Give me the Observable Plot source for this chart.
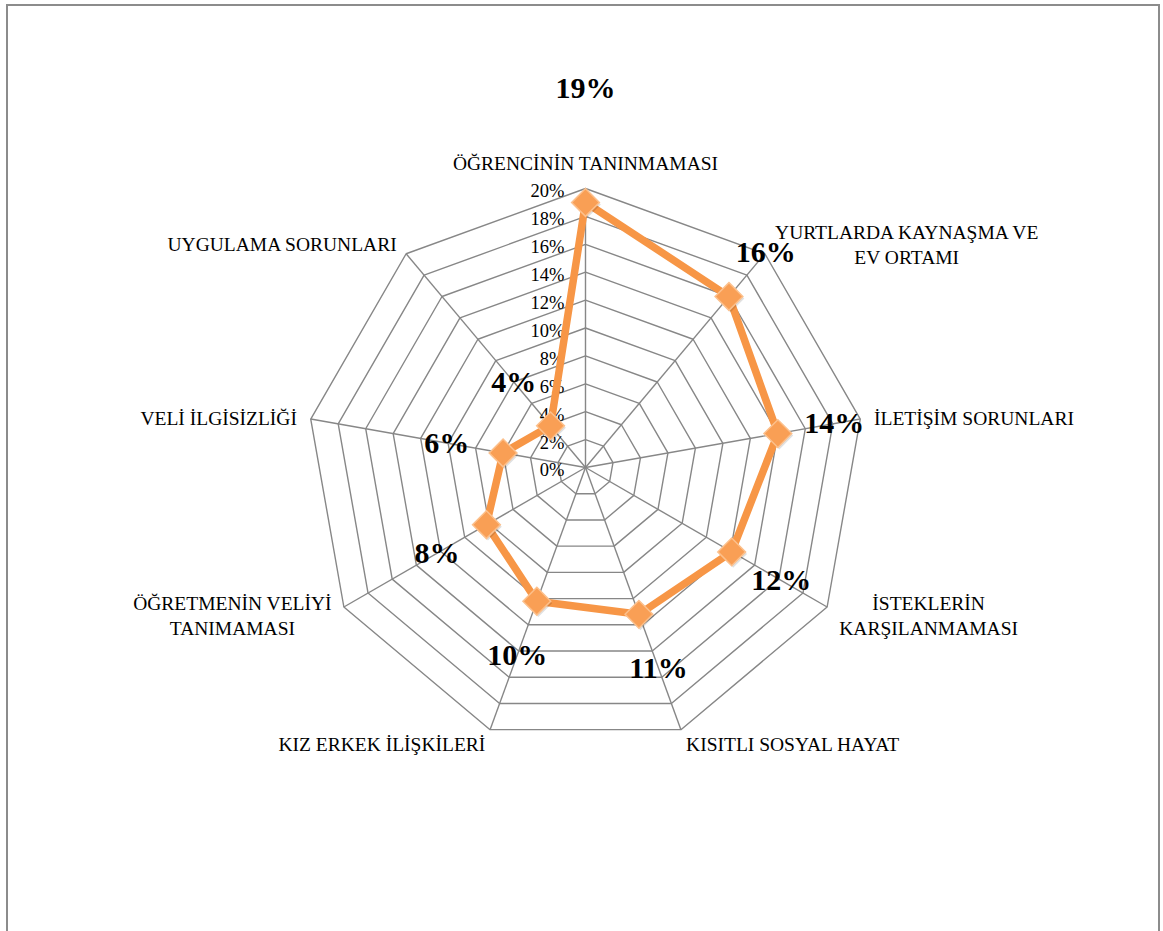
<!DOCTYPE html>
<html><head><meta charset="utf-8">
<script src="https://cdn.jsdelivr.net/npm/d3@7"></script>
<script src="https://cdn.jsdelivr.net/npm/@observablehq/plot@0.6"></script>
<style>
html,body{margin:0;padding:0;background:#fff;}
#wrap{position:relative;width:1163px;height:931px;overflow:hidden;}
#frame{position:absolute;left:6px;top:4px;width:1154px;height:1000px;border:2px solid #8c8c8c;box-sizing:border-box;pointer-events:none;}
</style></head><body>
<div id="wrap"><div id="chart"></div><div id="frame"></div></div>
<script>
// ---- data ----
const categories = [
  "ÖĞRENCİNİN TANINMAMASI",
  "YURTLARDA KAYNAŞMA VE\nEV ORTAMI",
  "İLETİŞİM SORUNLARI",
  "İSTEKLERİN\nKARŞILANMAMASI",
  "KISITLI SOSYAL HAYAT",
  "KIZ ERKEK İLİŞKİLERİ",
  "ÖĞRETMENİN VELİYİ\nTANIMAMASI",
  "VELİ İLGİSİZLİĞİ",
  "UYGULAMA SORUNLARI"
];
const values = [19.0, 16.0, 14.0, 12.1, 11.2, 10.2, 8.2, 6.0, 3.9];
const valueLabels = ["19%", "16%", "14%", "12%", "11%", "10%", "8%", "6%", "4%"];
const tickValues = [0, 2, 4, 6, 8, 10, 12, 14, 16, 18, 20];
const tickLabels = ["0%", "2%", "4%", "6%", "8%", "10%", "12%", "14%", "16%", "18%", "20%"];

// ---- layout ----
const W = 1163, H = 931;
const cx = 585, cy = 467;          // centre of the radar in px
const Rpx = 279;                   // px radius of the 20% ring
const maxV = 20;
const k = Rpx / maxV;              // px per percentage point
const n = categories.length;
const ang = i => i * 2 * Math.PI / n;
const FONT = "'Liberation Serif', 'Times New Roman', serif";
const gridColor = "#878787";

const pts = values.map((v, i) => ({
  i, v, label: valueLabels[i],
  x: v * Math.sin(ang(i)), y: v * Math.cos(ang(i)),
  lr: v + (i === 0 ? 8.2 : 4.1)
}));

const rings = [];
for (const lv of tickValues.filter(t => t > 0))
  for (let i = 0; i < n; i++) rings.push({lv, x: lv * Math.sin(ang(i)), y: lv * Math.cos(ang(i))});

const spokes = categories.map((c, i) => ({x2: maxV * Math.sin(ang(i)), y2: maxV * Math.cos(ang(i))}));

// category label placement (Excel-like: block edge 14px beyond the outer vertex)
const ctx = document.createElement("canvas").getContext("2d");
const catSize = 19.5, catLine = 25;
ctx.font = `${catSize}px ${FONT}`;
const catRows = categories.map((c, i) => {
  const lines = c.split("\n");
  const w = Math.max(...lines.map(l => ctx.measureText(l).width));
  const h = lines.length * catLine;
  const s = Math.sin(ang(i)), co = Math.cos(ang(i));
  const ax = cx + (Rpx + 14) * s, ay = cy - (Rpx + 14) * co;
  let px, py;
  if (Math.abs(s) < 0.3) { px = ax; py = ay - Math.sign(co) * h / 2; }
  else { px = ax + Math.sign(s) * w / 2; py = ay; }
  return {text: c, x: (px - cx) / k, y: (cy - py) / k};
});

const ticks = tickValues.map((t, i) => ({v: t, label: tickLabels[i]}));

const plot = Plot.plot({
  width: W, height: H,
  marginLeft: 0, marginRight: 0, marginTop: 0, marginBottom: 0,
  x: {domain: [-cx / k, (W - cx) / k]},
  y: {domain: [-(H - cy) / k, cy / k]},
  axis: null,
  style: {background: "transparent"},
  marks: [
    Plot.line(rings, {x: "x", y: "y", z: "lv", curve: "linear-closed", stroke: gridColor, strokeWidth: 1.4}),
    Plot.link(spokes, {x1: 0, y1: 0, x2: "x2", y2: "y2", stroke: gridColor, strokeWidth: 1.4}),
    Plot.text(ticks, {x: 0, y: "v", text: "label", textAnchor: "end", lineAnchor: "middle", dx: -21, dy: 3,
      fontSize: 18.5, fontFamily: FONT, fill: "#000"}),
    Plot.line(pts, {x: "x", y: "y", curve: "linear-closed", stroke: "#F79646", strokeWidth: 7.5, strokeLinejoin: "round"}),
    Plot.dot(pts, {x: "x", y: "y", symbol: "diamond2", r: 12.5, fill: "rgba(0,0,0,0.12)", dx: 1.5, dy: 2}),
    Plot.dot(pts, {x: "x", y: "y", symbol: "diamond2", r: 12.5, fill: "#F99F55", stroke: "#FCC08C", strokeWidth: 1.5}),
    Plot.text(catRows, {x: "x", y: "y", text: "text", textAnchor: "middle", lineAnchor: "middle",
      lineHeight: catLine / catSize, fontSize: catSize, fontFamily: FONT, fill: "#000"}),
    Plot.text(pts, {x: d => d.lr * Math.sin(ang(d.i)), y: d => d.lr * Math.cos(ang(d.i)), text: "label",
      textAnchor: "middle", lineAnchor: "middle", fontSize: 30, fontWeight: "bold", fontFamily: FONT, fill: "#000"})
  ]
});
document.getElementById("chart").append(plot);
</script>
</body></html>
